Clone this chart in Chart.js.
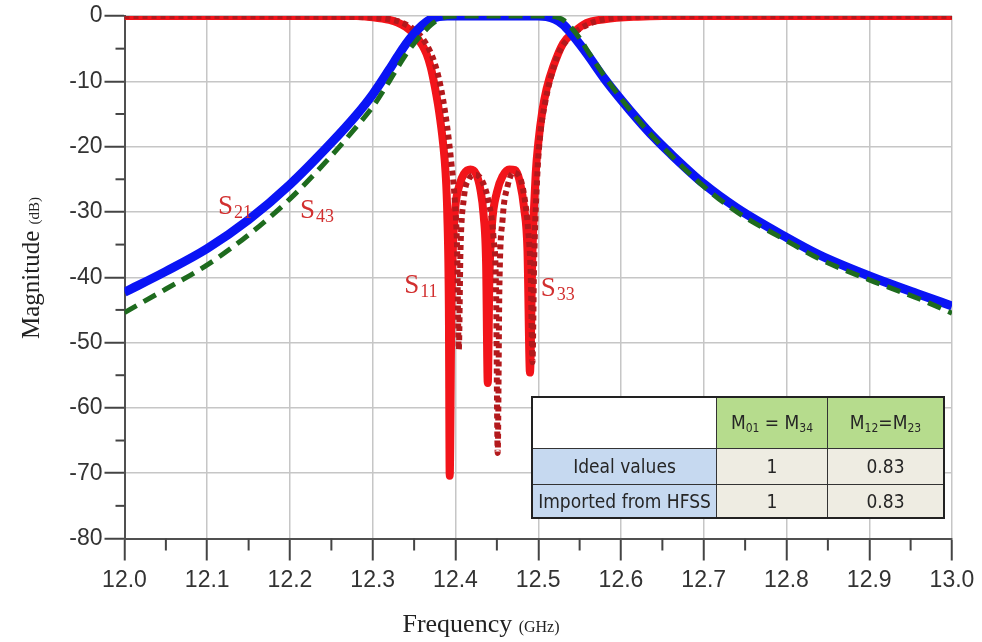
<!DOCTYPE html>
<html>
<head>
<meta charset="utf-8">
<script src="https://cdn.jsdelivr.net/npm/chart.js@4.4.1/dist/chart.umd.min.js"></script>
<style>
  html, body { margin: 0; padding: 0; background: #fff; }
  #wrap { position: relative; width: 982px; height: 642px; }
  #tbl {
    position: absolute; left: 531px; top: 396px;
    border-collapse: collapse; border: 2px solid #222;
    font-family: 'Liberation Sans Narrow', 'DejaVu Sans Condensed', 'Open Sans', sans-serif;
    font-size: 19px; color: #262626;
  }
  #tbl td { border: 1.5px solid #333; text-align: center; padding: 0; }
  #tbl sub { font-size: 12px; vertical-align: -3px; }
  .hd { background: #b6dc8d; }
  .rl { background: #c6d9f0; }
  .vl { background: #eeece2; }
</style>
</head>
<body>
<div id="wrap">
  <canvas id="c" width="982" height="642"></canvas>
  <table id="tbl">
    <tr style="height:51px">
      <td style="width:183px;background:#fff"></td>
      <td class="hd" style="width:110px">M<sub>01</sub> = M<sub>34</sub></td>
      <td class="hd" style="width:115px">M<sub>12</sub>=M<sub>23</sub></td>
    </tr>
    <tr style="height:36px">
      <td class="rl">Ideal values</td><td class="vl">1</td><td class="vl">0.83</td>
    </tr>
    <tr style="height:34px">
      <td class="rl">Imported from HFSS</td><td class="vl">1</td><td class="vl">0.83</td>
    </tr>
  </table>
</div>
<script>
// częstotliwość [GHz] i moduł [dB]
const freqS21 = [12.0, 12.05, 12.1, 12.15, 12.2, 12.25, 12.28, 12.3, 12.32, 12.33, 12.34, 12.35, 12.36, 12.37, 12.38, 12.39,
                 12.5, 12.51, 12.52, 12.53, 12.54, 12.55, 12.56, 12.58, 12.6, 12.62, 12.64, 12.66, 12.7, 12.74, 12.8, 12.84, 12.9, 12.96, 13.0];
const magS21  = [-42.3, -39.1, -35.6, -31.2, -25.8, -19.4, -15.2, -12.0, -8.2, -6.2, -4.3, -2.7, -1.4, -0.5, -0.1, 0,
                 0, -0.1, -0.5, -1.3, -2.7, -4.3, -6.0, -9.6, -12.8, -15.8, -18.6, -21.1, -25.7, -29.4, -33.9, -36.6, -39.8, -42.6, -44.4];

const freqS43 = [12.0, 12.05, 12.1, 12.15, 12.2, 12.25, 12.28, 12.3, 12.32, 12.33, 12.34, 12.35, 12.36, 12.37, 12.38, 12.39, 12.4,
                 12.51, 12.52, 12.53, 12.54, 12.55, 12.56, 12.58, 12.6, 12.62, 12.64, 12.66, 12.7, 12.74, 12.8, 12.84, 12.9, 12.96, 13.0];
const magS43  = [-45.4, -41.8, -38.1, -33.5, -28.0, -21.4, -17.0, -13.9, -10.0, -7.9, -5.9, -4.2, -2.7, -1.4, -0.5, -0.1, 0,
                 0, -0.1, -0.6, -1.8, -3.4, -5.4, -9.2, -12.6, -15.8, -18.7, -21.3, -26.1, -30.0, -34.4, -37.2, -40.4, -43.3, -45.5];

const freqS11 = [12.0, 12.28, 12.3, 12.32, 12.33, 12.34, 12.35, 12.36, 12.365, 12.37, 12.375, 12.38, 12.385, 12.388, 12.39, 12.392, 12.393,
                 12.395, 12.397, 12.4, 12.405, 12.41, 12.418, 12.425, 12.43, 12.434, 12.437, 12.439, 12.441, 12.444, 12.45, 12.457, 12.465,
                 12.472, 12.478, 12.483, 12.487, 12.49, 12.493, 12.497, 12.5, 12.505, 12.51, 12.518, 12.53, 12.542, 12.558, 12.58, 12.62, 12.65, 13.0];
const magS11  = [0, 0, -0.2, -0.6, -1.0, -1.7, -2.8, -4.5, -5.8, -7.8, -10.8, -14.5, -19.5, -24.0, -30.0, -45.0, -70.4,
                 -45.0, -35.0, -29.0, -25.8, -24.2, -23.5, -24.2, -26.5, -30.5, -38.0, -56.2, -40.0, -32.0, -27.0, -24.5, -23.5,
                 -23.6, -25.5, -29.5, -36.0, -54.6, -36.0, -24.0, -19.5, -14.5, -11.2, -7.8, -4.2, -2.6, -1.1, -0.5, -0.1, 0, 0];

const freqS33 = [12.0, 12.3, 12.33, 12.34, 12.35, 12.36, 12.37, 12.375, 12.38, 12.385, 12.39, 12.395, 12.399, 12.402, 12.404,
                 12.406, 12.41, 12.416, 12.424, 12.432, 12.44, 12.446, 12.449, 12.451, 12.453, 12.457, 12.463, 12.47, 12.477,
                 12.483, 12.488, 12.491, 12.493, 12.495, 12.499, 12.503, 12.508, 12.515, 12.525, 12.54, 12.56, 12.58, 12.62, 12.65, 13.0];
const magS33  = [0, -0.2, -0.8, -1.3, -2.1, -3.4, -5.6, -7.3, -9.6, -12.8, -17.0, -22.5, -28.0, -36.0, -51.1,
                 -36.0, -28.0, -25.0, -24.3, -25.2, -28.5, -34.0, -42.0, -66.9, -42.0, -31.0, -26.0, -24.0, -24.5,
                 -27.5, -33.0, -40.0, -53.0, -38.0, -24.0, -17.5, -13.5, -9.5, -5.6, -3.0, -1.3, -0.5, -0.1, 0, 0];

// podpisy krzywych: [tekst, indeks, częstotliwość, dB]
const curveLabels = [
  ["S", "21", 12.113, -30.3],
  ["S", "43", 12.212, -30.9],
  ["S", "11", 12.338, -42.4],
  ["S", "33", 12.503, -42.8],
];

const toPoints = (xs, ys) => xs.map((x, i) => ({ x, y: ys[i] }));
const isMajorX = (v) => Math.round(v * 20) % 2 === 0;
const isMajorY = (v) => Math.round(v) % 10 === 0;

const SANS = "'Liberation Sans', Arial, sans-serif";
const SERIF = "'Liberation Serif', 'Times New Roman', serif";

const decorPlugin = {
  id: "decor",
  afterDraw(chart) {
    const { ctx, scales: { x, y } } = chart;
    ctx.save();
    // drobne znaczniki
    ctx.strokeStyle = "#444";
    ctx.lineWidth = 2;
    for (let k = 1; k < 20; k += 2) {
      const px = x.getPixelForValue(12 + k * 0.05);
      ctx.beginPath();
      ctx.moveTo(px, x.top);
      ctx.lineTo(px, x.top + 12);
      ctx.stroke();
    }
    for (let v = -75; v < 0; v += 10) {
      const py = y.getPixelForValue(v);
      ctx.beginPath();
      ctx.moveTo(y.right, py);
      ctx.lineTo(y.right - 9, py);
      ctx.stroke();
    }

    // tytuł osi X
    ctx.fillStyle = "#222";
    ctx.textBaseline = "alphabetic";
    ctx.font = `26px ${SERIF}`;
    const w1 = ctx.measureText("Frequency ").width;
    ctx.font = `16px ${SERIF}`;
    const w2 = ctx.measureText("(GHz)").width;
    let sx = 481 - (w1 + w2) / 2;
    ctx.font = `26px ${SERIF}`;
    ctx.fillText("Frequency ", sx, 632);
    ctx.font = `16px ${SERIF}`;
    ctx.fillText("(GHz)", sx + w1, 632);

    // tytuł osi Y
    ctx.save();
    ctx.translate(39, 268);
    ctx.rotate(-Math.PI / 2);
    ctx.font = `25px ${SERIF}`;
    const h1 = ctx.measureText("Magnitude ").width;
    ctx.font = `15px ${SERIF}`;
    const h2 = ctx.measureText("(dB)").width;
    sx = -(h1 + h2) / 2;
    ctx.font = `25px ${SERIF}`;
    ctx.fillText("Magnitude ", sx, 0);
    ctx.font = `15px ${SERIF}`;
    ctx.fillText("(dB)", sx + h1, 0);
    ctx.restore();

    // podpisy S
    ctx.fillStyle = "#d22f2f";
    curveLabels.forEach(([main, sub, f, db]) => {
      const px = x.getPixelForValue(f);
      const py = y.getPixelForValue(db);
      ctx.font = `27px ${SERIF}`;
      ctx.fillText(main, px, py);
      const mw = ctx.measureText(main).width;
      ctx.font = `18px ${SERIF}`;
      ctx.fillText(sub, px + mw + 1, py + 4);
    });
    ctx.restore();
  },
};

new Chart(document.getElementById("c"), {
  type: "line",
  data: {
    datasets: [
      {
        label: "S43", data: toPoints(freqS43, magS43),
        borderColor: "#1e6b1e", borderWidth: 5, borderDash: [14, 8],
      },
      {
        label: "S21", data: toPoints(freqS21, magS21),
        borderColor: "#0a14f5", borderWidth: 9,
      },
      {
        label: "S33", data: toPoints(freqS33, magS33),
        borderColor: "#b3191c", borderWidth: 6, borderDash: [5, 4],
      },
      {
        label: "S11", data: toPoints(freqS11, magS11),
        borderColor: "#f2141a", borderWidth: 8,
      },
    ],
  },
  options: {
    responsive: false,
    animation: false,
    elements: {
      point: { radius: 0 },
      line: { cubicInterpolationMode: "monotone", borderCapStyle: "butt" },
    },
    layout: { padding: { top: 16, right: 30, left: 0, bottom: 0 } },
    plugins: { legend: { display: false }, tooltip: { enabled: false } },
    scales: {
      x: {
        type: "linear", min: 12, max: 13,
        afterFit: (s) => { s.height = 103.5; },
        ticks: {
          stepSize: 0.05, autoSkip: false, maxRotation: 0, padding: 6,
          color: "#333", font: { family: SANS, size: 23 },
          callback: (v) => (isMajorX(v) ? (Math.round(v * 10) / 10).toFixed(1) : ""),
        },
        grid: {
          color: (c) => (isMajorX(c.tick.value) ? "#c6c6c6" : "rgba(0,0,0,0)"),
          lineWidth: 1.5, tickLength: 22, tickWidth: 2,
          tickColor: (c) => (isMajorX(c.tick.value) ? "#444" : "rgba(0,0,0,0)"),
        },
        border: { color: "#505050", width: 2 },
      },
      y: {
        min: -80, max: 0,
        afterFit: (s) => { s.width = 124.5; },
        ticks: {
          stepSize: 5, autoSkip: false, padding: 2,
          color: "#333", font: { family: SANS, size: 23 },
          callback: (v) => (isMajorY(v) ? String(v) : ""),
        },
        grid: {
          color: (c) => (isMajorY(c.tick.value) ? "#c6c6c6" : "rgba(0,0,0,0)"),
          lineWidth: 1.5, tickLength: 20, tickWidth: 2,
          tickColor: (c) => (isMajorY(c.tick.value) ? "#444" : "rgba(0,0,0,0)"),
        },
        border: { color: "#505050", width: 2 },
      },
    },
  },
  plugins: [decorPlugin],
});
</script>
</body>
</html>
